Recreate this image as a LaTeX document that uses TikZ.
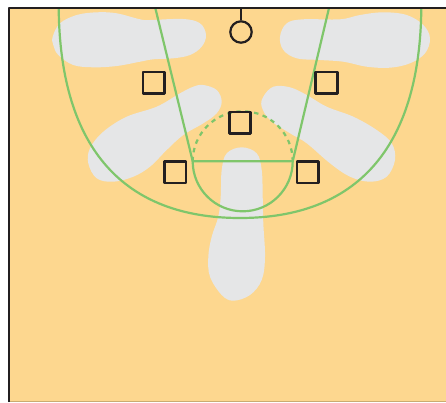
\documentclass[tikz,border=0pt]{standalone}
\usepackage{xcolor}
\definecolor{floorColor}{HTML}{FDD78F}
\definecolor{zoneColor}{HTML}{E5E6E7}
\definecolor{courtColor}{HTML}{7FC66B}
\definecolor{inkColor}{HTML}{231F20}
\usepackage{tikz}
\usetikzlibrary{positioning}

\begin{document}
\begin{tikzpicture}[x=1pt, y=-1pt, line join=round,
        court line/.style={draw=courtColor, line width=2.2pt},
        player/.style={rectangle, draw=inkColor, line width=2.6pt, minimum size=21.5pt, inner sep=0pt}]
        \useasboundingbox (0,0) rectangle (446,402);

        % Floor (half court, baseline at the top)
        \fill[floorColor] (9,8) rectangle (446,401);
        \draw[line width=0.8pt, floorColor!80!black] (9,401.5) -- (446,401.5);

        % Shot zones (grey blobs)
        \fill[zoneColor] plot[smooth cycle, tension=0.6] coordinates {(52.7,36.7) (60,23.3) (76.7,15) (96.7,12.3) (116.7,13.3) (140,19.3) (150,20) (183,19) (200,23.3) (206,35) (201.7,46.7) (190,55) (173.3,58.3) (153.3,59.3) (140,61.7) (116.7,66) (93.3,67.3) (73.3,65) (58.3,55) (53.3,45)};
        \fill[zoneColor] plot[smooth cycle, tension=0.6] coordinates {(280,36.7) (286.7,23.3) (303,19.3) (340,19.3) (360,15) (383.3,12.3) (406.7,15) (423.3,25) (430,38.3) (425,53.3) (410,63.3) (390,67.7) (366.7,66.7) (343.3,61.7) (320,60) (296.7,58.3) (283.3,50)};
        \fill[zoneColor] plot[smooth cycle, tension=0.6] coordinates {(203.3,85) (216.7,90) (221.7,101.7) (216.7,113.3) (203.3,123.3) (183.3,135) (166.7,150) (150,166.7) (133.3,176.7) (113.3,181.7) (96.7,178.3) (88.3,163.3) (90,148.3) (103.3,131.7) (126.7,116.7) (156.7,106.7) (180,93.3) (193.3,86.7)};
        \fill[zoneColor] plot[smooth cycle, tension=0.6] coordinates {(273.3,86.7) (263.3,96.7) (261.7,106.7) (270,120) (290,133.3) (306.7,143.3) (330,163.3) (350,176.7) (370,181.7) (386.7,176.7) (395,160) (391.7,143.3) (376.7,130) (353.3,116.7) (326.7,106.7) (306.7,95) (290,87.3)};
        \fill[zoneColor] plot[smooth cycle, tension=0.6] coordinates {(241.7,147.3) (256.7,153.3) (261.7,170) (262.7,196.7) (263.3,223.3) (265,256.7) (261.7,280) (250,295) (233.3,300.7) (221.7,295) (210,276.7) (208.3,256.7) (211.7,236.7) (218.3,216.7) (220.7,196.7) (221.7,170) (226.7,153.3)};

        % Three-point line
        \coordinate (arcL) at (58.7,8);
        \coordinate (arcB) at (240,218);
        \coordinate (arcR) at (421.3,8);
        \draw[court line] (arcL) .. controls (60,150) and (125,218) .. (arcB)
            .. controls (355,218) and (420,150) .. (arcR);

        % Lane and free-throw circle
        \coordinate (laneTL) at (155.3,8);
        \coordinate (laneTR) at (329,8);
        \coordinate (ftL) at (192.7,161.3);
        \coordinate (ftR) at (292.7,161.3);
        \draw[court line] (laneTL) -- (ftL) -- (ftR) -- (laneTR);
        \draw[court line] (ftL) arc[start angle=180, end angle=0, radius=50];
        \draw[court line, dash pattern=on 4.5pt off 4.5pt] (ftL) arc[start angle=180, end angle=360, radius=50];

        % Court border
        \draw[inkColor, line width=2.2pt] (9,402) -- (9,8) -- (446,8);

        % Hoop
        \node[circle, draw=inkColor, line width=2.2pt, minimum size=21.4pt, inner sep=0pt] (hoop) at (241,32) {};
        \coordinate (rim) at (241,8);
        \draw[inkColor, line width=2.2pt] (rim) -- (hoop.north);

        % Players
        \node[player] (wingL) at (153.7,82.7) {};
        \node[player] (wingR) at (326.5,82.7) {};
        \node[player] (post) at (240,122.7) {};
        \node[player] (blockL) at (175.3,172.3) {};
        \node[player] (blockR) at (307.7,172.3) {};
    \end{tikzpicture}
\end{document}
